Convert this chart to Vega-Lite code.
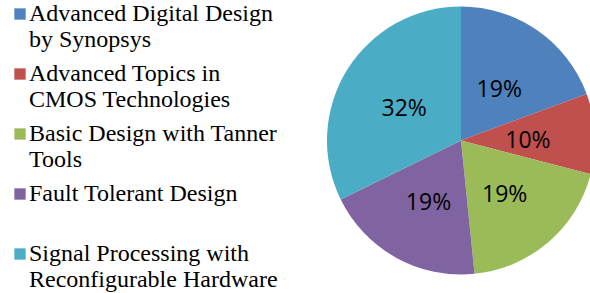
{
  "$schema": "https://vega.github.io/schema/vega-lite/v6.json",
  "width": 262,
  "height": 281,
  "autosize": "none",
  "padding": {"left": 330, "top": 0, "right": 0, "bottom": 12},
  "background": "white",
  "view": {"stroke": null},
  "data": {
    "values": [
      {"idx": 1, "course": "Advanced Digital Design by Synopsys", "count": 6},
      {"idx": 2, "course": "Advanced Topics in CMOS Technologies", "count": 3},
      {"idx": 3, "course": "Basic Design with Tanner Tools", "count": 6},
      {"idx": 4, "course": "Fault Tolerant Design", "count": 6},
      {"idx": 5, "course": "Signal Processing with Reconfigurable Hardware", "count": 10}
    ]
  },
  "transform": [
    {"joinaggregate": [{"op": "sum", "field": "count", "as": "total"}]},
    {"calculate": "datum.count / datum.total", "as": "pct"}
  ],
  "encoding": {
    "theta": {"field": "count", "type": "quantitative", "stack": true},
    "order": {"field": "idx", "type": "quantitative"},
    "color": {
      "field": "course",
      "type": "nominal",
      "scale": {
        "domain": ["Advanced Digital Design by Synopsys", "Advanced Topics in CMOS Technologies", "Basic Design with Tanner Tools", "Fault Tolerant Design", "Signal Processing with Reconfigurable Hardware"],
        "range": ["#4F81BD", "#C0504D", "#9BBB59", "#8064A2", "#4BACC6"]
      },
      "legend": {
        "orient": "none",
        "legendX": -322,
        "legendY": 2,
        "title": null,
        "labelFont": "Liberation Serif",
        "labelFontSize": 24,
        "labelColor": "black",
        "labelLimit": 0,
        "labelBaseline": "alphabetic",
        "symbolType": "square",
        "symbolSize": 128,
        "symbolStrokeWidth": 0,
        "symbolOpacity": 1,
        "rowPadding": 10,
        "labelOffset": -3,
        "encode": {"labels": {"update": {"dy": {"value": 7}}}},
        "labelExpr": "datum.label == 'Advanced Digital Design by Synopsys' ? ['Advanced Digital Design', 'by Synopsys'] : datum.label == 'Advanced Topics in CMOS Technologies' ? ['Advanced Topics in', 'CMOS Technologies'] : datum.label == 'Basic Design with Tanner Tools' ? ['Basic Design with Tanner', 'Tools'] : datum.label == 'Fault Tolerant Design' ? ['Fault Tolerant Design', ''] : ['Signal Processing with', 'Reconfigurable Hardware']"
      }
    }
  },
  "layer": [
    {"mark": {"type": "arc", "outerRadius": 134}},
    {
      "mark": {"type": "text", "radius": 67, "dy": 4, "font": "Open Sans", "fontSize": 23, "fill": "black"},
      "encoding": {"text": {"field": "pct", "type": "quantitative", "format": ".0%"}}
    }
  ]
}
